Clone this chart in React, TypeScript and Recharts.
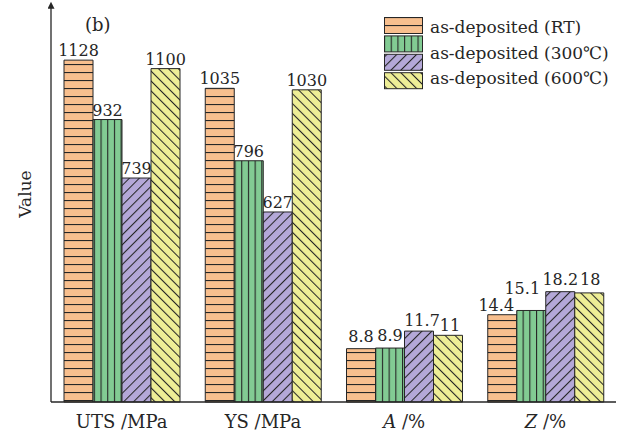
import { Bar, BarChart, Label, LabelList, Legend, XAxis, YAxis } from 'recharts';

// categories along the x axis; A and Z are printed in italics
const categories = ['UTS', 'YS', 'A', 'Z'];
const units = ['/MPa', '/MPa', '/%', '/%'];
const italicNames = ['A', 'Z'];

// one value per category, in the order above
const asDepositedRT = [1128, 1035, 8.8, 14.4];
const asDeposited300 = [932, 796, 8.9, 15.1];
const asDepositedMid = [739, 627, 11.7, 18.2];
const asDeposited600 = [1100, 1030, 11, 18];

const legendLabels = ['as-deposited (RT)', 'as-deposited (300℃)', 'as-deposited (600℃)'];

// strength on the left scale, elongation / reduction of area on the right one
const strengthDomain = [0, 1300];
const percentDomain = [0, 65];

const FONT = '"DejaVu Serif", serif';
const INK = '#262626';

const series = [
  { key: 'rt', values: asDepositedRT, pattern: 'hatch-rt', color: '#f8bf8e' },
  { key: 't300', values: asDeposited300, pattern: 'hatch-300', color: '#82cb93' },
  { key: 'mid', values: asDepositedMid, pattern: 'hatch-mid', color: '#b4a8d8' },
  { key: 't600', values: asDeposited600, pattern: 'hatch-600', color: '#eeee96' },
];

const data = categories.map((name, i) => {
  const row: Record<string, string | number | null> = { name, unit: units[i] };
  const isPercent = units[i] === '/%';
  series.forEach((s) => {
    row[`${s.key}Mpa`] = isPercent ? null : s.values[i];
    row[`${s.key}Pct`] = isPercent ? s.values[i] : null;
  });
  return row;
});

// small shifts so crowded value labels don't run into each other
const labelNudge: Record<string, [number, number]> = {
  'rt-A': [0, -3],
  't300-A': [0, -3],
  'mid-A': [3, -1],
  't600-A': [2, 0],
  'rt-Z': [-6, 0],
  't300-Z': [-9, -12],
  'mid-Z': [0, -3],
  't600-Z': [1, -4],
};

function Patterns() {
  return (
    <defs>
      <pattern id="hatch-rt" patternUnits="userSpaceOnUse" width="8" height="8">
        <rect width="8" height="8" fill={series[0].color} />
        <line x1="0" y1="0.5" x2="8" y2="0.5" stroke={INK} strokeWidth="1.2" />
      </pattern>
      <pattern id="hatch-300" patternUnits="userSpaceOnUse" width="6.7" height="8">
        <rect width="6.7" height="8" fill={series[1].color} />
        <line x1="0.5" y1="0" x2="0.5" y2="8" stroke={INK} strokeWidth="1.2" />
      </pattern>
      <pattern id="hatch-mid" patternUnits="userSpaceOnUse" width="7" height="7" patternTransform="rotate(45)">
        <rect width="7" height="7" fill={series[2].color} />
        <line x1="0.5" y1="0" x2="0.5" y2="7" stroke={INK} strokeWidth="1.1" />
      </pattern>
      <pattern id="hatch-600" patternUnits="userSpaceOnUse" width="7" height="7" patternTransform="rotate(-45)">
        <rect width="7" height="7" fill={series[3].color} />
        <line x1="0.5" y1="0" x2="0.5" y2="7" stroke={INK} strokeWidth="1.1" />
      </pattern>
      <marker
        id="axis-arrow"
        viewBox="0 0 10 10"
        refX="1"
        refY="5"
        markerWidth="10"
        markerHeight="7"
        markerUnits="userSpaceOnUse"
        orient="auto-start-reverse"
      >
        <path d="M0,0 L10,5 L0,10 z" fill={INK} />
      </marker>
    </defs>
  );
}

function CategoryTick(props: any) {
  const { x, y, payload } = props;
  const i = categories.indexOf(payload.value);
  const italic = italicNames.includes(payload.value);
  return (
    <text x={x} y={y} dy={18} textAnchor="middle" fontFamily={FONT} fontSize={18} fill={INK}>
      <tspan fontStyle={italic ? 'italic' : 'normal'}>{payload.value}</tspan>
      <tspan> {units[i]}</tspan>
    </text>
  );
}

function renderValueLabel(s: (typeof series)[number]) {
  return function ValueLabel(props: any) {
    const { value } = props;
    if (value == null || value === '') return null;
    const vb = props.viewBox ?? props;
    const category = categories[s.values.indexOf(Number(value))];
    const [dx, dy] = labelNudge[`${s.key}-${category}`] ?? [0, 0];
    return (
      <text
        x={vb.x + vb.width / 2 + dx}
        y={vb.y - 4 + dy}
        textAnchor="middle"
        fontFamily={FONT}
        fontSize={16}
        fill={INK}
      >
        {value}
      </text>
    );
  };
}

function HatchLegend() {
  return (
    <div style={{ position: 'relative', width: 234, height: 76, fontFamily: FONT, fontSize: 17, color: INK }}>
      <svg width={40} height={76} style={{ position: 'absolute', left: 0, top: 0 }}>
        {series.map((s, i) => (
          <rect
            key={s.key}
            x={0.5}
            y={0.5 + i * 18.4}
            width={38}
            height={16}
            fill={`url(#${s.pattern})`}
            stroke={INK}
          />
        ))}
      </svg>
      <div style={{ position: 'absolute', left: 46, top: -2, lineHeight: '25.5px', whiteSpace: 'nowrap' }}>
        {legendLabels.map((l) => (
          <div key={l}>{l}</div>
        ))}
      </div>
    </div>
  );
}

export default function App() {
  return (
    <div style={{ position: 'absolute', left: 0, top: 0, width: 622, height: 431, background: '#fff' }}>
      <BarChart
        width={622}
        height={431}
        data={data}
        margin={{ top: 8, right: 6, bottom: 0, left: 0 }}
        barCategoryGap={13}
        barGap={0}
      >
        <Patterns />
        <XAxis
          xAxisId="mpa"
          dataKey="name"
          height={29}
          tickLine={false}
          axisLine={{ stroke: INK, strokeWidth: 1.3 }}
          tick={<CategoryTick />}
          interval={0}
        />
        <XAxis
          xAxisId="pct"
          dataKey="name"
          orientation="top"
          height={0}
          tick={false}
          tickLine={false}
          axisLine={{ stroke: INK, strokeWidth: 1.3 }}
        />
        <YAxis
          yAxisId="mpa"
          domain={strengthDomain}
          width={51}
          tick={false}
          tickLine={false}
          axisLine={{ stroke: INK, strokeWidth: 1.3, markerStart: 'url(#axis-arrow)' }}
        >
          <Label
            value="Value"
            angle={-90}
            position="insideLeft"
            offset={25}
            dy={-11}
            style={{ textAnchor: 'middle', fontFamily: FONT, fontSize: 17, fill: INK }}
          />
        </YAxis>
        <YAxis
          yAxisId="pct"
          orientation="right"
          domain={percentDomain}
          width={0}
          tick={false}
          tickLine={false}
          axisLine={{ stroke: INK, strokeWidth: 1.3 }}
        />
        {series.map((s) => (
          <Bar
            key={`${s.key}Mpa`}
            xAxisId="mpa"
            yAxisId="mpa"
            dataKey={`${s.key}Mpa`}
            fill={`url(#${s.pattern})`}
            stroke={INK}
            strokeWidth={1}
            isAnimationActive={false}
          >
            <LabelList dataKey={`${s.key}Mpa`} content={renderValueLabel(s)} />
          </Bar>
        ))}
        {series.map((s) => (
          <Bar
            key={`${s.key}Pct`}
            xAxisId="pct"
            yAxisId="pct"
            dataKey={`${s.key}Pct`}
            fill={`url(#${s.pattern})`}
            stroke={INK}
            strokeWidth={1}
            legendType="none"
            isAnimationActive={false}
          >
            <LabelList dataKey={`${s.key}Pct`} content={renderValueLabel(s)} />
          </Bar>
        ))}
        <Legend
          layout="horizontal"
          verticalAlign="middle"
          align="center"
          content={<HatchLegend />}
          wrapperStyle={{ left: 384, top: 17, width: 234, height: 76 }}
        />
        <text x={85} y={31} fontFamily={FONT} fontSize={18} fill={INK}>
          (b)
        </text>
      </BarChart>
    </div>
  );
}
